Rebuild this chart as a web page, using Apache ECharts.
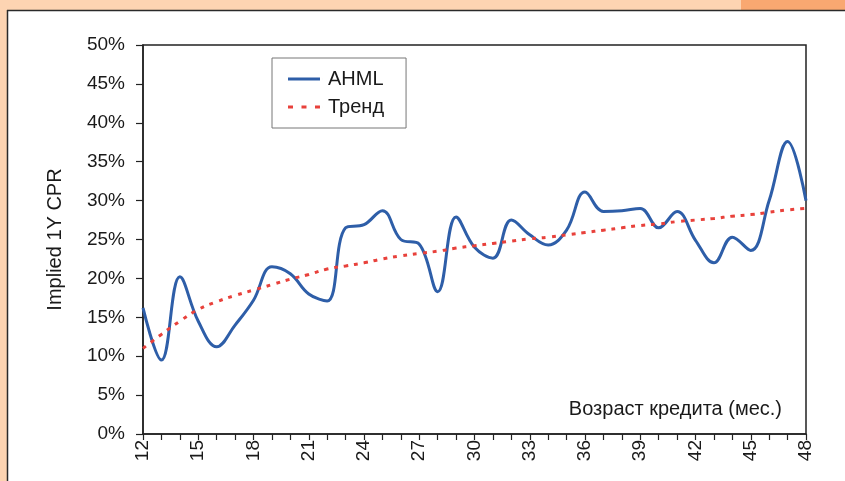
<!DOCTYPE html>
<html>
<head>
<meta charset="utf-8">
<script src="https://cdn.jsdelivr.net/npm/echarts@6/dist/echarts.min.js"></script>
<style>
html,body{margin:0;padding:0;background:#FDD4B2;}
#c{width:845px;height:481px;}
</style>
</head>
<body>
<div id="c"></div>
<script>
const months = [12,13,14,15,16,17,18,19,20,21,22,23,24,25,26,27,28,29,30,31,32,33,34,35,36,37,38,39,40,41,42,43,44,45,46,47,48];
const ahml = [16.2,9.5,20.2,14.5,11.2,14.0,17.2,21.5,20.6,18.0,17.1,26.5,26.9,28.7,25.0,24.4,18.3,27.9,24.0,22.6,27.5,25.6,24.3,26.2,31.1,28.6,28.7,29.0,26.5,28.6,24.9,22.0,25.3,23.6,30.0,37.6,30.0];
const trend = [11.0,12.8,14.5,16.0,17.0,17.8,18.5,19.2,19.9,20.5,21.2,21.6,22.0,22.5,22.9,23.2,23.5,23.9,24.2,24.5,24.8,25.1,25.3,25.6,25.9,26.2,26.5,26.8,27.0,27.3,27.5,27.7,28.0,28.2,28.5,28.8,29.0];
const yTicks = [0,5,10,15,20,25,30,35,40,45,50];
const seriesNames = ['AHML','Тренд'];
const yTitle = 'Implied 1Y CPR';
const xTitle = 'Возраст кредита (мес.)';

const chart = echarts.init(document.getElementById('c'), null, {renderer:'canvas'});
const font = 'Liberation Sans, Arial, sans-serif';
const txt = '#1a1a1a';
chart.setOption({
  backgroundColor: '#FDD4B2',
  animation: false,
  textStyle: {fontFamily: font},
  graphic: [
    {type:'rect', z:-10, shape:{x:741,y:0,width:104,height:10}, style:{fill:'#F9A871'}},
    {type:'rect', z:-10, shape:{x:7,y:10,width:838,height:471}, style:{fill:'#ffffff'}},
    {type:'line', z:-5, shape:{x1:7,y1:10.5,x2:845,y2:10.5}, style:{stroke:'#2a2a2a', lineWidth:1.5}},
    {type:'line', z:-5, shape:{x1:7.5,y1:10,x2:7.5,y2:481}, style:{stroke:'#2a2a2a', lineWidth:1.5}},
    {type:'text', z:10, right: 845-782, top: 399, style:{text:xTitle, fill:txt, font:'20px ' + font, textAlign:'right'}}
  ],
  grid: {left:143, right:39, top:45, bottom:47, show:true, borderColor:'#222', borderWidth:1.5, backgroundColor:'#fff'},
  legend: {
    orient:'vertical', left:272, top:58, padding:[11,22,11,16], itemGap:8,
    itemWidth:35, itemHeight:20,
    borderColor:'#777', borderWidth:1, backgroundColor:'#fff',
    textStyle:{fontSize:20, color:txt, fontFamily:font},
    data: [
      {name: seriesNames[0], icon:'path://M0,0H32V3H0Z M35,0H35.01V3H35Z'},
      {name: seriesNames[1], icon:'path://M0,0H5V3H0Z M13.5,0H18.5V3H13.5Z M27,0H32V3H27Z M35,0H35.01V3H35Z'}
    ]
  },
  xAxis: {
    type:'category', data: months.map(String), boundaryGap:false,
    axisLine:{lineStyle:{color:'#222', width:1.5}},
    axisTick:{show:true, interval:0, length:6, lineStyle:{color:'#222', width:1.2}},
    axisLabel:{interval:2, rotate:90, fontSize:19, color:txt, margin:6, fontFamily:font},
    splitLine:{show:false}
  },
  yAxis: {
    type:'value', min:0, max:50, interval:5,
    name: yTitle, nameLocation:'middle', nameGap:78, nameRotate:90,
    nameTextStyle:{fontSize:20, color:txt, fontFamily:font},
    axisLine:{show:true, lineStyle:{color:'#222', width:1.5}},
    axisTick:{show:true, length:7, lineStyle:{color:'#222', width:1.2}},
    axisLabel:{fontSize:19, color:txt, margin:18, fontFamily:font, formatter: v => v + '%'},
    splitLine:{show:false}
  },
  series: [
    {name:seriesNames[0], type:'line', data: ahml, smooth:0.4, showSymbol:false, symbol:'none',
     lineStyle:{color:'#2E5EA8', width:3}, itemStyle:{color:'#2E5EA8'}, z:3},
    {name:seriesNames[1], type:'line', data: trend, smooth:true, showSymbol:false, symbol:'none',
     lineStyle:{color:'#E8413B', width:3, type:[4,6]}, itemStyle:{color:'#E8413B'}, z:4}
  ]
});
</script>
</body>
</html>
